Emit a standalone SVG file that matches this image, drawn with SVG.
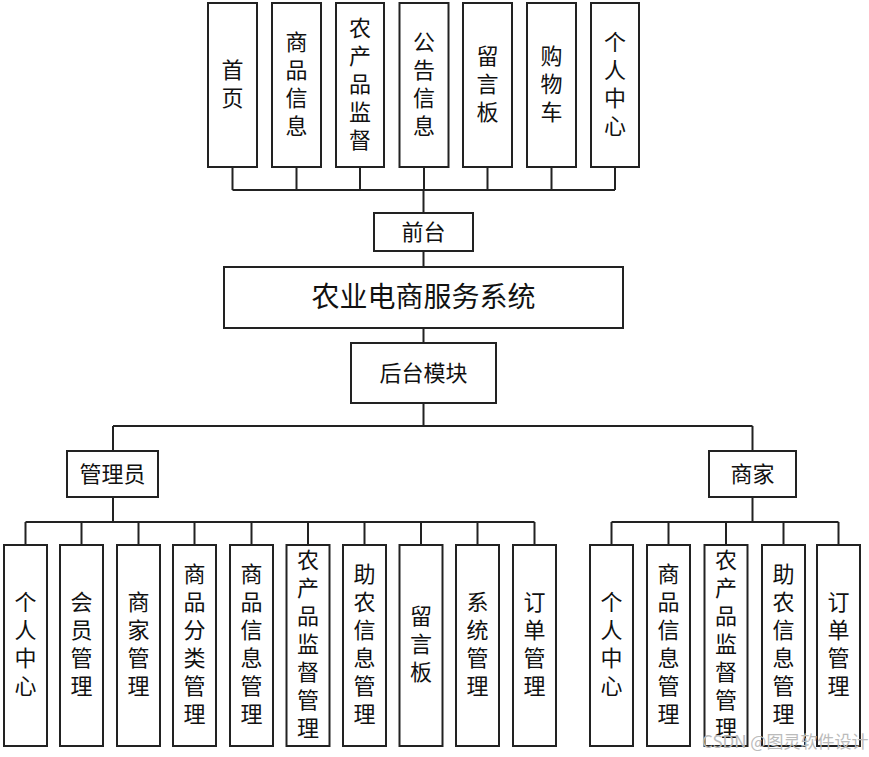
<svg xmlns="http://www.w3.org/2000/svg" width="869" height="757" viewBox="0 0 869 757">
<style>
.b{fill:#fff;stroke:#222;stroke-width:2}
.t{font-family:"Noto Sans CJK SC",sans-serif;font-size:22px;fill:#111;text-anchor:middle;dominant-baseline:central}
.v{font-family:"Noto Sans CJK SC",sans-serif;font-size:22px;fill:#111;text-anchor:middle;writing-mode:vertical-rl;letter-spacing:6px}
.big{font-size:28px}
.c{fill:none;stroke:#222;stroke-width:2}
.wm{font-family:"Noto Sans CJK SC",sans-serif;font-size:17px;fill:#bbb}
</style>
<rect width="869" height="757" fill="#fff"/>
<g id="connectors">
<path class="c" d="M232.5 167V190M296.5 167V190M360 167V190M424 167V190M487.5 167V190M551.5 167V190M615 167V190M232.5 190H615M423.5 190V213"/>
<path class="c" d="M423.5 251V267M423.5 328V343M423.5 403V426M113 426H752.5M113 426V451M752.5 426V451"/>
<path class="c" d="M113 497V522M25.5 522H534.5M25.5 522V545M81.5 522V545M138.5 522V545M194.5 522V545M251.5 522V545M308 522V545M364.5 522V545M421 522V545M477.5 522V545M534.5 522V545"/>
<path class="c" d="M752.5 497V522M611.5 522H838.5M611.5 522V545M668.5 522V545M726 522V545M783.5 522V545M838.5 522V545"/>
</g>
<g id="n_home"><rect class="b" x="208" y="3" width="49" height="164"/><text class="v" x="232.5" y="87">首页</text></g>
<g id="n_goods"><rect class="b" x="272" y="3" width="49" height="164"/><text class="v" x="296.5" y="87">商品信息</text></g>
<g id="n_supervise"><rect class="b" x="336" y="3" width="48" height="164"/><text class="v" x="360" y="87">农产品监督</text></g>
<g id="n_notice"><rect class="b" x="399.5" y="3" width="49" height="164"/><text class="v" x="424" y="87">公告信息</text></g>
<g id="n_msg"><rect class="b" x="463" y="3" width="49" height="164"/><text class="v" x="487.5" y="87">留言板</text></g>
<g id="n_cart"><rect class="b" x="527" y="3" width="49" height="164"/><text class="v" x="551.5" y="87">购物车</text></g>
<g id="n_user"><rect class="b" x="591" y="3" width="48" height="164"/><text class="v" x="615" y="87">个人中心</text></g>
<g id="n_front"><rect class="b" x="374" y="213" width="99" height="38"/><text class="t" x="423.5" y="229.5">前台</text></g>
<g id="n_system"><rect class="b" x="224" y="267" width="399" height="61"/><text class="t big" x="423.5" y="294.5">农业电商服务系统</text></g>
<g id="n_back"><rect class="b" x="351" y="343" width="145" height="60"/><text class="t" x="423.5" y="370.5">后台模块</text></g>
<g id="n_admin"><rect class="b" x="67" y="451" width="91" height="46"/><text class="t" x="112.5" y="471.5">管理员</text></g>
<g id="n_merchant"><rect class="b" x="709" y="451" width="87" height="46"/><text class="t" x="752.5" y="471.5">商家</text></g>
<g id="a1"><rect class="b" x="4" y="545" width="43" height="201"/><text class="v" x="25.5" y="647">个人中心</text></g>
<g id="a2"><rect class="b" x="60" y="545" width="43" height="201"/><text class="v" x="81.5" y="647">会员管理</text></g>
<g id="a3"><rect class="b" x="117" y="545" width="43" height="201"/><text class="v" x="138.5" y="647">商家管理</text></g>
<g id="a4"><rect class="b" x="173" y="545" width="43" height="201"/><text class="v" x="194.5" y="647">商品分类管理</text></g>
<g id="a5"><rect class="b" x="230" y="545" width="43" height="201"/><text class="v" x="251.5" y="647">商品信息管理</text></g>
<g id="a6"><rect class="b" x="286.5" y="545" width="43" height="201"/><text class="v" x="308" y="647">农产品监督管理</text></g>
<g id="a7"><rect class="b" x="343" y="545" width="43" height="201"/><text class="v" x="364.5" y="647">助农信息管理</text></g>
<g id="a8"><rect class="b" x="399.5" y="545" width="43" height="201"/><text class="v" x="421" y="647">留言板</text></g>
<g id="a9"><rect class="b" x="456" y="545" width="43" height="201"/><text class="v" x="477.5" y="647">系统管理</text></g>
<g id="a10"><rect class="b" x="513" y="545" width="43" height="201"/><text class="v" x="534.5" y="647">订单管理</text></g>
<g id="m1"><rect class="b" x="590" y="545" width="43" height="201"/><text class="v" x="611.5" y="647">个人中心</text></g>
<g id="m2"><rect class="b" x="647" y="545" width="43" height="201"/><text class="v" x="668.5" y="647">商品信息管理</text></g>
<g id="m3"><rect class="b" x="704.5" y="545" width="43" height="201"/><text class="v" x="726" y="647">农产品监督管理</text></g>
<g id="m4"><rect class="b" x="762" y="545" width="43" height="201"/><text class="v" x="783.5" y="647">助农信息管理</text></g>
<g id="m5"><rect class="b" x="817" y="545" width="43" height="201"/><text class="v" x="838.5" y="647">订单管理</text></g>
<text class="wm" x="702" y="748">CSDN @图灵软件设计</text>
</svg>
